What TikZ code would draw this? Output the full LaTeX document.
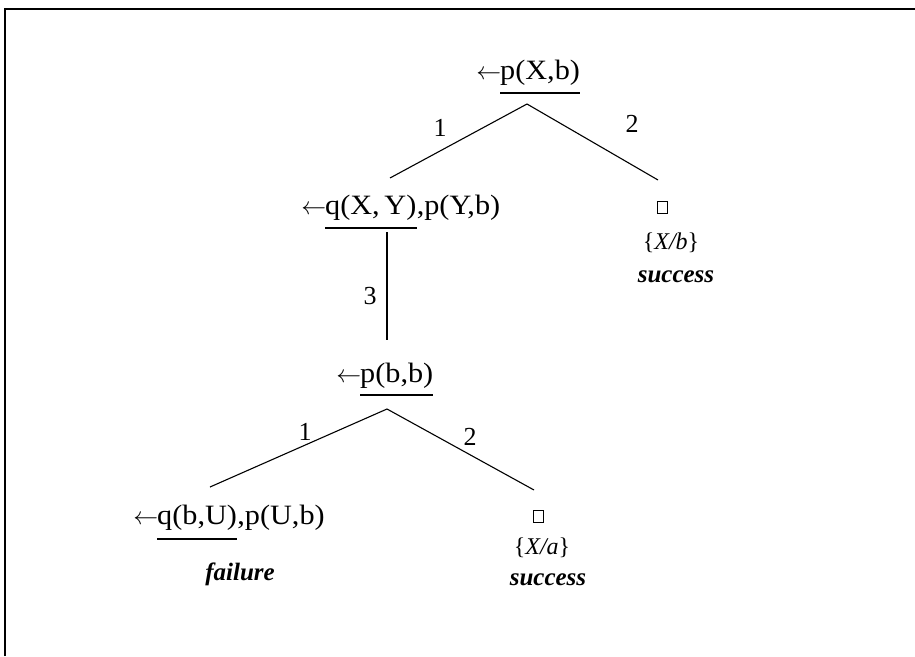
\documentclass[tikz,border=0pt]{standalone}
\usepackage{fontspec}
\setmainfont{Liberation Serif}
\newfontfamily\widefont[FakeStretch=1.08]{Liberation Serif}
\newcommand{\larr}{$\leftarrow$\kern-1.5pt}
\begin{document}
\begin{tikzpicture}[x=1pt,y=-1pt,
  term/.style={font=\widefont\fontsize{28}{30}\selectfont, inner sep=0pt, anchor=base west},
  arr/.style={font=\fontsize{30}{32}\selectfont, inner sep=0pt, anchor=base east},
  lab/.style={font=\fontsize{26}{28}\selectfont, inner sep=0pt},
  verdict/.style={font=\fontsize{25}{27}\selectfont\bfseries\itshape, inner sep=0pt},
  subst/.style={font=\fontsize{24}{26}\selectfont, inner sep=0pt},
  empty/.style={draw, line width=1pt, minimum width=10pt, minimum height=12pt, inner sep=0pt},
  edge/.style={line width=1.1pt},
  uline/.style={line width=1.4pt}]
\useasboundingbox (0,0) rectangle (915,656);
\draw[line width=1.5pt] (5,656) -- (5,9) -- (915,9);

% root
\node[term] (rootu) at (500,79) {p(X,b)};
\node[arr] (roota) at (rootu.base west) {\larr};
\draw[uline] ([yshift=-14pt]rootu.base west) -- ([yshift=-14pt]rootu.base east);
\coordinate (a1) at (527,104);
\coordinate (n1top) at (390,178);
\coordinate (b1top) at (658,180);
\draw[edge] (n1top) -- (a1) -- (b1top);
\node[lab] (l11) at (440,128) {1};
\node[lab] (l12) at (632,124) {2};

% right branch
\node[empty] (box1) at (662,207) {};
\node[subst] (s1) at (671,243) {\{\textit{X/b}\}};
\node[verdict] (v1) at (676,277) {success};

% n1
\node[term] (n1u) at (325,214) {q(X,\,Y)};
\node[arr] (n1a) at (n1u.base west) {\larr};
\node[term] (n1r) at (n1u.base east) {,p(Y,b)};
\draw[uline] ([yshift=-14pt]n1u.base west) -- ([yshift=-14pt]n1u.base east);
\coordinate (v1a) at (387,232);
\coordinate (v1b) at (387,340);
\draw[edge] (v1a) -- (v1b);
\node[lab] (l3) at (370,296) {3};

% n2
\node[term] (n2u) at (360,382) {p(b,b)};
\node[arr] (n2a) at (n2u.base west) {\larr};
\draw[uline] ([yshift=-13pt]n2u.base west) -- ([yshift=-13pt]n2u.base east);
\coordinate (a2) at (387,409);
\coordinate (n3top) at (210,487);
\coordinate (b2top) at (534,490);
\draw[edge] (n3top) -- (a2) -- (b2top);
\node[lab] (l21) at (305,432) {1};
\node[lab] (l22) at (470,437) {2};

% n3
\node[term] (n3u) at (157,524) {q(b,U)};
\node[arr] (n3a) at (n3u.base west) {\larr};
\node[term] (n3r) at (n3u.base east) {,p(U,b)};
\draw[uline] ([yshift=-15pt]n3u.base west) -- ([yshift=-15pt]n3u.base east);
\node[verdict] (f3) at (240,574) {failure};

\node[empty] (box2) at (538,516) {};
\node[subst] (s2) at (542,548) {\{\textit{X/a}\}};
\node[verdict] (v2) at (548,580) {success};
\end{tikzpicture}
\end{document}
